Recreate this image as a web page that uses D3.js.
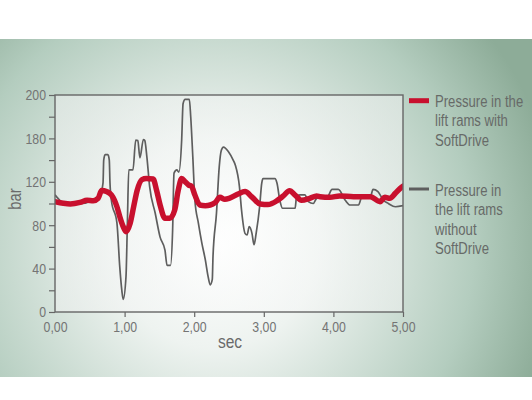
<!DOCTYPE html>
<html>
<head>
<meta charset="utf-8">
<script src="https://cdn.jsdelivr.net/npm/d3@7"></script>
<style>
  html, body { margin: 0; padding: 0; background: #ffffff; }
  svg { display: block; }
  text { font-family: "Liberation Sans", Arial, sans-serif; }
</style>
</head>
<body>
<script>
// ---------- data ----------
const redTime = [0.00,0.12,0.22,0.36,0.46,0.55,0.62,0.67,0.74,0.81,0.89,0.93,0.98,1.02,1.08,1.13,1.18,1.25,1.31,1.41,1.46,1.51,1.58,1.65,1.72,1.77,1.82,1.87,1.92,1.96,2.01,2.08,2.16,2.23,2.30,2.37,2.44,2.51,2.63,2.73,2.83,2.95,3.06,3.19,3.28,3.37,3.45,3.54,3.66,3.76,3.81,3.95,4.09,4.29,4.53,4.67,4.74,4.81,4.89,4.96,5.00];
const redValues = [101.7,100.2,99.6,101,103,102.5,104.8,112,111,108,97,88,78.6,74,81.7,97,112,122,123,122.5,112,98.6,86.4,86.4,94,112,123,120,117,116,107.8,98.6,98,98.6,100.8,105.7,103.9,105,108.8,111,106,99.5,99,102.6,107,111.8,107.8,103,104.8,107,106.3,105.7,107,106.3,106.3,101.7,105.7,104.8,109.4,114,116];

const grayTime = [0.00,0.04,0.12,0.36,0.55,0.65,0.69,0.70,0.72,0.76,0.78,0.79,0.81,0.89,0.93,0.96,0.98,1.02,1.04,1.06,1.12,1.16,1.19,1.22,1.27,1.29,1.32,1.36,1.44,1.51,1.58,1.61,1.66,1.69,1.71,1.75,1.78,1.82,1.84,1.87,1.93,1.95,1.98,2.01,2.06,2.11,2.16,2.20,2.23,2.26,2.27,2.32,2.36,2.39,2.42,2.49,2.56,2.59,2.65,2.68,2.73,2.76,2.79,2.83,2.86,2.89,2.94,2.97,2.99,3.16,3.19,3.23,3.27,3.45,3.47,3.52,3.59,3.64,3.71,3.75,3.81,3.92,3.98,4.07,4.17,4.24,4.36,4.41,4.53,4.57,4.64,4.72,4.79,4.89,5.00];
const grayValues = [108,105,101,100,103,108,119,140,145,145,140,119,103,82,42,20,11.7,32.6,82,131,131,158.5,158,142,159,158,143,115.5,91,69,57,43,43,75.6,128,131,129,158.5,192,196,196,180,143,103,82,63.5,48,32.6,25,30,51,91,134,149,152,148,140,135.5,115.5,94,72.5,71,78.6,72.5,62,72.5,97,118.6,123,123,118.6,103,95.6,95.6,106,108,108,101.7,100,104,107,107,113,113,103,98.6,98.6,106,106,113,111,103,100,97,98];

const xTickValues = [0,1,2,3,4,5];
const xTickLabels = ["0,00","1,00","2,00","3,00","4,00","5,00"];
const yTickValues = [0,40,80,120,160,200];
const yTickLabels = ["0","40","80","120","180","200"];
const yMinorTicks = [20,60,100,140,180];

const legendLabels = [
  ["Pressure in the", "lift rams with", "SoftDrive"],
  ["Pressure in", "the lift rams", "without", "SoftDrive"]
];
const seriesColors = ["#c8102e", "#5e5e5e"];
const xTitle = "sec";
const yTitle = "bar";

// ---------- layout ----------
const W = 532, H = 400;
const plot = { left: 55, right: 403, top: 95, bottom: 312 };
const SX = 0.82; // horizontal condensing of text

const svg = d3.select("body").append("svg").attr("width", W).attr("height", H);
const defs = svg.append("defs");

const bg = defs.append("radialGradient").attr("id", "bgGrad")
  .attr("gradientUnits", "userSpaceOnUse")
  .attr("cx", 215).attr("cy", 245).attr("r", 345);
bg.append("stop").attr("offset", 0).attr("stop-color", "#ffffff");
bg.append("stop").attr("offset", 0.3).attr("stop-color", "#eef3f0");
bg.append("stop").attr("offset", 0.75).attr("stop-color", "#b4cdbf");
bg.append("stop").attr("offset", 1).attr("stop-color", "#8dac98");

const pg = defs.append("radialGradient").attr("id", "plotGrad")
  .attr("gradientUnits", "userSpaceOnUse")
  .attr("cx", 240).attr("cy", 230).attr("r", 230);
pg.append("stop").attr("offset", 0).attr("stop-color", "#ffffff").attr("stop-opacity", 0.5);
pg.append("stop").attr("offset", 1).attr("stop-color", "#eceeed").attr("stop-opacity", 0.55);

svg.append("rect").attr("x", 0).attr("y", 39).attr("width", W).attr("height", 338)
  .attr("fill", "url(#bgGrad)");

const x = d3.scaleLinear().domain([0, 5]).range([plot.left, plot.right]);
const y = d3.scaleLinear().domain([0, 200]).range([plot.bottom, plot.top]);

svg.append("rect")
  .attr("x", plot.left).attr("y", plot.top)
  .attr("width", plot.right - plot.left).attr("height", plot.bottom - plot.top)
  .attr("fill", "url(#plotGrad)");

// lines
const clip = defs.append("clipPath").attr("id", "clip");
clip.append("rect").attr("x", plot.left).attr("y", plot.top - 5)
  .attr("width", plot.right - plot.left).attr("height", plot.bottom - plot.top + 5);

const grayData = grayTime.map((t, i) => [t, grayValues[i]]);
const redData = redTime.map((t, i) => [t, redValues[i]]);

const lineGen = d3.line().x(d => x(d[0])).y(d => y(d[1])).curve(d3.curveMonotoneX);

svg.append("path").datum(grayData).attr("d", lineGen)
  .attr("fill", "none").attr("stroke", seriesColors[1]).attr("stroke-width", 1.7)
  .attr("stroke-linejoin", "round").attr("clip-path", "url(#clip)");
svg.append("path").datum(redData).attr("d", lineGen)
  .attr("fill", "none").attr("stroke", seriesColors[0]).attr("stroke-width", 5.5)
  .attr("stroke-linejoin", "round").attr("stroke-linecap", "round").attr("clip-path", "url(#clip)");

// frame
svg.append("rect")
  .attr("x", plot.left).attr("y", plot.top)
  .attr("width", plot.right - plot.left).attr("height", plot.bottom - plot.top)
  .attr("fill", "none").attr("stroke", "#666666").attr("stroke-width", 1.4);

// axes
const axisColor = "#666666";
const labelColor = "#747474";

const xAxis = d3.axisBottom(x).tickValues(xTickValues)
  .tickFormat((d, i) => xTickLabels[i]).tickSize(5).tickPadding(4);
const gx = svg.append("g").attr("transform", `translate(0,${plot.bottom})`).call(xAxis);
gx.select(".domain").remove();
gx.selectAll(".tick line").attr("stroke", axisColor).attr("stroke-width", 1.2);
gx.selectAll(".tick text").attr("fill", labelColor).attr("font-size", 15)
  .attr("font-family", "Liberation Sans, Arial, sans-serif")
  .attr("transform", `scale(${SX},1)`);
gx.select(".tick line").remove(); // no tick at 0 (frame corner)

const yAxis = d3.axisLeft(y).tickValues(yTickValues)
  .tickFormat((d, i) => yTickLabels[i]).tickSize(6).tickPadding(3);
const gy = svg.append("g").attr("transform", `translate(${plot.left},0)`).call(yAxis);
gy.select(".domain").remove();
gy.selectAll(".tick line").attr("stroke", axisColor).attr("stroke-width", 1.2);
gy.selectAll(".tick text").attr("fill", labelColor).attr("font-size", 15)
  .attr("font-family", "Liberation Sans, Arial, sans-serif")
  .attr("x", -9 / SX)
  .attr("transform", `scale(${SX},1)`);

const yMinor = d3.axisLeft(y).tickValues(yMinorTicks).tickFormat("").tickSize(6);
const gym = svg.append("g").attr("transform", `translate(${plot.left},0)`).call(yMinor);
gym.select(".domain").remove();
gym.selectAll(".tick line").attr("stroke", axisColor).attr("stroke-width", 1.2);

// titles
svg.append("text").attr("transform", `translate(${(plot.left + plot.right) / 2 + 1},348) scale(${SX},1)`)
  .attr("text-anchor", "middle").attr("fill", "#6a6a6a").attr("font-size", 19)
  .text(xTitle);
svg.append("text").attr("transform", `translate(21,199) rotate(-90) scale(${SX},1)`)
  .attr("text-anchor", "middle").attr("fill", "#6a6a6a").attr("font-size", 18)
  .text(yTitle);

// legend
const legendTop = [107, 195.7];
const swatchY = [100.7, 189];
const swatchW = [5, 3];
legendLabels.forEach((lines, i) => {
  svg.append("line").attr("x1", 409).attr("x2", 429)
    .attr("y1", swatchY[i]).attr("y2", swatchY[i])
    .attr("stroke", seriesColors[i]).attr("stroke-width", swatchW[i]);
  const t = svg.append("text")
    .attr("transform", `translate(435,${legendTop[i]}) scale(${SX},1)`)
    .attr("fill", "#676a68").attr("font-size", 16);
  lines.forEach((ln, j) => {
    t.append("tspan").attr("x", 0).attr("dy", j === 0 ? 0 : 19.5).text(ln);
  });
});
</script>
</body>
</html>
